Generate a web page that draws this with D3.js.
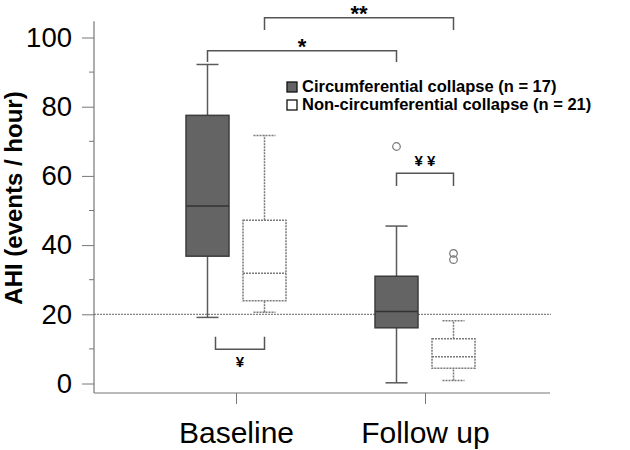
<!DOCTYPE html>
<html>
<head>
<meta charset="utf-8">
<script src="https://cdn.jsdelivr.net/npm/d3@7"></script>
<style>
  body { margin: 0; background: #fff; }
  svg { font-family: 'Liberation Sans', Arial, sans-serif; }
</style>
</head>
<body>
<svg width="630" height="450"></svg>
<script>
// time points and groups
let timepoints = ['Baseline', 'Follow up'];
let groups = ['circ', 'non'];
let groupLabels = ['Circumferential collapse (n = 17)', 'Non-circumferential collapse (n = 21)'];

// [whisker low, q1, median, q3, whisker high] per time point
let circBoxes = [[19.1, 36.8, 51.3, 77.5, 92.2], [0.2, 16.1, 20.8, 31.0, 45.5]];
let nonBoxes = [[20.6, 23.9, 31.9, 47.2, 71.7], [0.9, 4.4, 7.7, 12.9, 18.1]];
let circOutliers = [[], [68.5]];
let nonOutliers = [[], [37.6, 35.8]];

let yTicks = [0, 20, 40, 60, 80, 100];
let yMinorTicks = [10, 30, 50, 70, 90];
let cutoff = 20;

// significance brackets: from/to = [time point, group], bar level, end level
let brackets = [
  {from: ['Baseline', 'circ'], to: ['Follow up', 'circ'], bar: 96.2, end: 92.9, label: '*'},
  {from: ['Baseline', 'non'], to: ['Follow up', 'non'], bar: 105.7, end: 102.2, label: '**'},
  {from: ['Follow up', 'circ'], to: ['Follow up', 'non'], bar: 60.8, end: 57.1, label: '¥ ¥'},
  {from: ['Baseline', 'circ'], to: ['Baseline', 'non'], bar: 9.9, end: 13.5, label: '¥', inset: 8}
];

let svg = d3.select('svg');
let axisColor = '#777';

let x = d3.scalePoint().domain(timepoints).range([236, 425]);
let xg = d3.scalePoint().domain(groups).range([-28.5, 28.5]);
let y = d3.scaleLinear().domain([0, 100]).range([383.5, 37.5]);
let boxW = 43;
let capW = 22;
let cx = function(t, g) { return x(t) + xg(g); };

let boxes = [];
timepoints.forEach(function(t, i) {
  boxes.push({t: t, g: 'circ', v: circBoxes[i], out: circOutliers[i]});
  boxes.push({t: t, g: 'non', v: nonBoxes[i], out: nonOutliers[i]});
});

// y axis
let yAxisX = 94;
let yAxisBottom = 393;
let gy = svg.append('g').attr('transform', 'translate(' + yAxisX + ',0)');
gy.call(d3.axisLeft(y).tickValues(yTicks).tickSize(12).tickPadding(10).tickFormat(d3.format('d')))
  .call(function(g) { g.select('.domain').remove(); });
gy.selectAll('.tick line').attr('stroke', axisColor);
gy.selectAll('.tick text').attr('font-size', 27.5).attr('fill', '#000')
  .attr('font-family', "'Liberation Sans', Arial, sans-serif");
gy.selectAll('.minor').data(yMinorTicks).enter().append('line')
  .attr('x1', -5).attr('x2', 0)
  .attr('y1', function(d) { return y(d); }).attr('y2', function(d) { return y(d); })
  .attr('stroke', axisColor);
gy.append('line')
  .attr('x1', 0).attr('x2', 0)
  .attr('y1', yAxisBottom).attr('y2', y(104.7))
  .attr('stroke', axisColor).attr('stroke-width', 1.2);

svg.append('text')
  .attr('transform', 'translate(22,198) rotate(-90)')
  .attr('text-anchor', 'middle')
  .attr('font-size', 24).attr('font-weight', 'bold')
  .text('AHI (events / hour)');

// x axis
let gx = svg.append('g').attr('transform', 'translate(0,' + yAxisBottom + ')');
gx.call(d3.axisBottom(x).tickSize(11).tickPadding(18))
  .call(function(g) { g.select('.domain').remove(); });
gx.selectAll('.tick line').attr('stroke', axisColor);
gx.selectAll('.tick text').attr('font-size', 30).attr('fill', '#000')
  .attr('font-family', "'Liberation Sans', Arial, sans-serif");
gx.append('line')
  .attr('x1', yAxisX).attr('x2', 550).attr('y1', 0).attr('y2', 0)
  .attr('stroke', axisColor).attr('stroke-width', 1.2);

// cutoff line
svg.append('line')
  .attr('x1', yAxisX).attr('x2', 551)
  .attr('y1', y(cutoff)).attr('y2', y(cutoff))
  .attr('stroke', '#666').attr('stroke-width', 1).attr('stroke-dasharray', '2,1');

// box plots
let bg = svg.selectAll('.box').data(boxes).enter().append('g')
  .attr('transform', function(d) { return 'translate(' + cx(d.t, d.g) + ',0)'; });

let stroke = function(d) { return d.g === 'circ' ? '#5a5a5a' : '#7a7a7a'; };
let dash = function(d) { return d.g === 'circ' ? null : '2,1'; };

bg.append('line')
  .attr('x1', 0).attr('x2', 0)
  .attr('y1', function(d) { return y(d.v[0]); }).attr('y2', function(d) { return y(d.v[1]); })
  .attr('stroke', stroke).attr('stroke-width', 1.5).attr('stroke-dasharray', dash);
bg.append('line')
  .attr('x1', 0).attr('x2', 0)
  .attr('y1', function(d) { return y(d.v[3]); }).attr('y2', function(d) { return y(d.v[4]); })
  .attr('stroke', stroke).attr('stroke-width', 1.5).attr('stroke-dasharray', dash);
bg.selectAll('.cap').data(function(d) { return [d, d].map(function(b, i) { return {b: b, v: b.v[i * 4]}; }); })
  .enter().append('line')
  .attr('x1', -capW / 2).attr('x2', capW / 2)
  .attr('y1', function(d) { return y(d.v); }).attr('y2', function(d) { return y(d.v); })
  .attr('stroke', function(d) { return stroke(d.b); }).attr('stroke-width', 1.5)
  .attr('stroke-dasharray', function(d) { return dash(d.b); });
bg.append('rect')
  .attr('x', -boxW / 2).attr('width', boxW)
  .attr('y', function(d) { return y(d.v[3]); })
  .attr('height', function(d) { return y(d.v[1]) - y(d.v[3]); })
  .attr('fill', function(d) { return d.g === 'circ' ? '#646464' : '#fff'; })
  .attr('stroke', function(d) { return d.g === 'circ' ? '#3c3c3c' : '#7a7a7a'; })
  .attr('stroke-width', 1.5).attr('stroke-dasharray', dash);
bg.append('line')
  .attr('x1', -boxW / 2).attr('x2', boxW / 2)
  .attr('y1', function(d) { return y(d.v[2]); }).attr('y2', function(d) { return y(d.v[2]); })
  .attr('stroke', function(d) { return d.g === 'circ' ? '#333' : '#7a7a7a'; })
  .attr('stroke-width', 1.5).attr('stroke-dasharray', dash);
bg.selectAll('circle').data(function(d) { return d.out; }).enter().append('circle')
  .attr('cx', 0).attr('cy', function(d) { return y(d); }).attr('r', 3.8)
  .attr('fill', 'none').attr('stroke', '#777').attr('stroke-width', 1.2);

// significance brackets
let bx1 = function(d) { return cx(d.from[0], d.from[1]) + (d.inset || 0); };
let bx2 = function(d) { return cx(d.to[0], d.to[1]); };
let br = svg.selectAll('.bracket').data(brackets).enter().append('g');
br.append('path')
  .attr('d', function(d) {
    return 'M' + bx1(d) + ',' + y(d.end) + 'V' + y(d.bar) + 'H' + bx2(d) + 'V' + y(d.end);
  })
  .attr('fill', 'none').attr('stroke', '#555').attr('stroke-width', 1.5);
br.append('text')
  .attr('x', function(d) { return (bx1(d) + bx2(d)) / 2; })
  .attr('y', function(d) {
    if (d.label.indexOf('*') >= 0) return y(d.bar) + 3;
    return d.end > d.bar ? y(d.bar) + 18 : y(d.bar) - 7;
  })
  .attr('text-anchor', 'middle')
  .attr('font-weight', 'bold')
  .attr('font-size', function(d) { return d.label.indexOf('*') >= 0 ? 22 : 15; })
  .text(function(d) { return d.label; });

// legend
let lg = svg.append('g').attr('transform', 'translate(287,82)');
let li = lg.selectAll('g').data(groupLabels).enter().append('g')
  .attr('transform', function(d, i) { return 'translate(0,' + i * 18 + ')'; });
li.append('rect')
  .attr('width', 10).attr('height', 10)
  .attr('fill', function(d, i) { return i === 0 ? '#646464' : '#fff'; })
  .attr('stroke', '#111').attr('stroke-width', 1.3);
li.append('text')
  .attr('x', 15).attr('y', 10)
  .attr('font-size', 16.5).attr('font-weight', 'bold')
  .text(function(d) { return d; });
</script>
</body>
</html>
